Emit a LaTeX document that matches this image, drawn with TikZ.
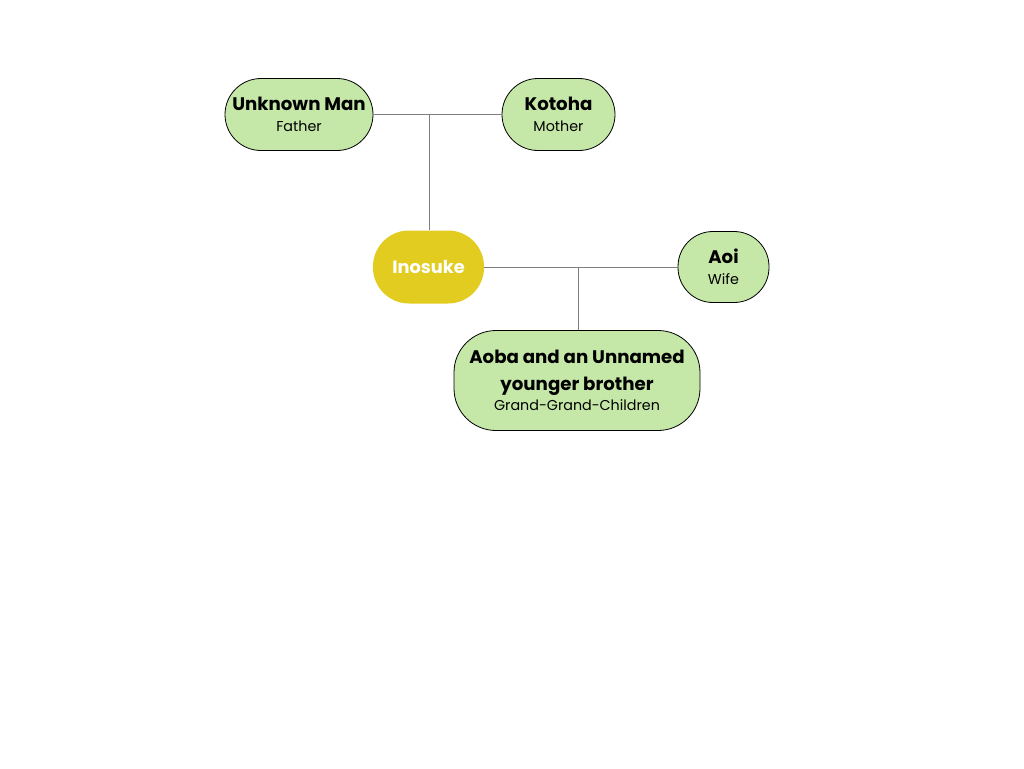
\documentclass[tikz,border=0pt]{standalone}
\usepackage{fontspec}
\setmainfont{Poppins}
\definecolor{pillgreen}{HTML}{C5E8A8}
\definecolor{pillyellow}{HTML}{E2CC1F}
\definecolor{linkgray}{HTML}{7F7F7F}
\newcommand{\nmtext}[1]{{\fontsize{18.2}{22}\selectfont\bfseries #1}}
\newcommand{\rltext}[1]{{\fontsize{14.3}{17}\selectfont #1}}
\begin{document}
\begin{tikzpicture}[x=1pt,y=-1pt,
  person/.style={draw=black, line width=0.8pt, fill=pillgreen, rounded corners=#1, inner sep=0pt, align=center, text=black, font=\fontsize{14}{20.5}\selectfont},
  person/.default=36pt,
  focus/.style={fill=pillyellow, rounded corners=36pt, inner sep=0pt, align=center, text=white, font=\fontsize{17.8}{20}\selectfont\bfseries},
  link/.style={draw=linkgray, line width=1pt}
]
\useasboundingbox (0,0) rectangle (1024,768);
\fill[white] (0,0) rectangle (1024,768);

\node[person, minimum width=148pt, minimum height=72pt] (father) at (299,114.5)
  {\nmtext{Unknown Man}\\\rltext{Father}};
\node[person, minimum width=113pt, minimum height=72pt] (mother) at (558.5,114.5)
  {\nmtext{Kotoha}\\\rltext{Mother}};
\node[focus, minimum width=111pt, minimum height=73pt] (ino) at (428.5,267) {Inosuke};
\node[person=35pt, minimum width=91pt, minimum height=71pt] (wife) at (723.5,267)
  {\nmtext{Aoi}\\\rltext{Wife}};
\node[person=42pt, minimum width=246pt, minimum height=100pt] (kids) at (577,380.5)
  {\nmtext{Aoba and an Unnamed}\\[6.5pt]\nmtext{younger brother}\\\rltext{Grand-Grand-Children}};

\coordinate (pj) at (429,114);
\coordinate (cj) at (578,267);
\draw[link] (father.east |- pj) -- (mother.west |- pj);
\draw[link] (pj) -- (ino.north -| pj);
\draw[link] (ino.east |- cj) -- (wife.west |- cj);
\draw[link] (cj) -- (kids.north -| cj);
\end{tikzpicture}
\end{document}
